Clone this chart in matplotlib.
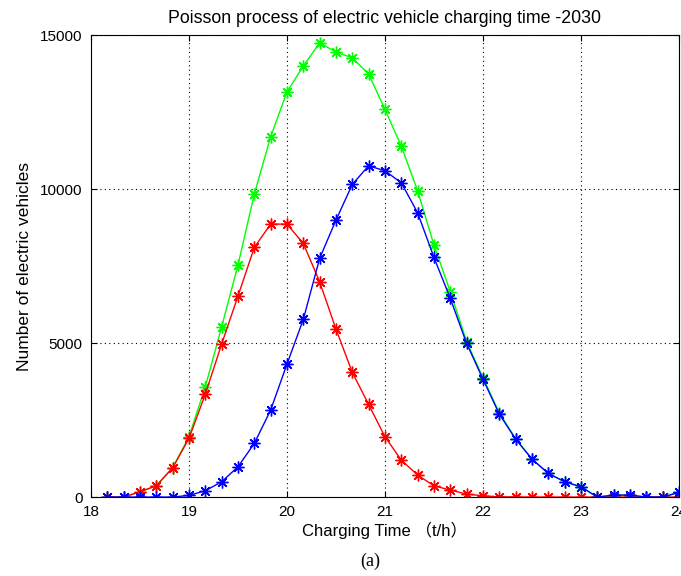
"""Poisson process of EV charging time (2030) - MATLAB-style line chart."""

import matplotlib
matplotlib.use("Agg")
import matplotlib.pyplot as plt

plt.rcParams["font.family"] = ["Liberation Sans", "Noto Sans CJK SC"]

# charging time slots, every 10 minutes from 18:10 to 24:00
TIME = [18 + k / 6 for k in range(1, 37)]

TOTAL = [0, 0, 172, 367, 951, 1960, 3582, 5530, 7532, 9838, 11698, 13159,
         13994, 14751, 14448, 14264, 13734, 12588, 11396, 9945, 8182, 6666,
         5050, 3870, 2738, 1890, 1240, 770, 497, 335, 0, 65, 65, 0, 0, 152]
GROUP_A = [0, 0, 172, 367, 951, 1905, 3344, 4968, 6526, 8107, 8864, 8864,
           8236, 6991, 5454, 4048, 3009, 1958, 1201, 714, 367, 227,
           97, 42, 10, 5, 0, 0, 0, 0, 0, 0, 0, 0, 0, 0]
GROUP_B = [0, 0, 0, 0, 0, 55, 205, 497, 984, 1743, 2825, 4318,
           5769, 7750, 8994, 10153, 10757, 10595, 10205, 9231, 7782, 6451,
           4990, 3831, 2695, 1883, 1234, 769, 497, 335, 0, 65, 65, 0, 0, 152]

XTICKS = [18, 19, 20, 21, 22, 23, 24]
YTICKS = [0, 5000, 10000, 15000]


def main():
    fig = plt.figure(figsize=(6.81, 5.76), dpi=100)
    ax = fig.add_axes([0.1336, 0.137, 0.8634, 0.802])

    # MATLAB '*' marker: plus and cross overlaid
    style = dict(marker=(8, 2, 0), markersize=8.5, linewidth=1.0,
                 markeredgewidth=1.0)
    ax.plot(TIME, TOTAL, color="#00ff00", **style)
    ax.plot(TIME, GROUP_A, color="#ff0000", **style)
    ax.plot(TIME, GROUP_B, color="#0000ff", **style)

    ax.set_xlim(18, 24)
    ax.set_ylim(0, 15000)
    ax.set_xticks(XTICKS)
    ax.set_yticks(YTICKS)
    ax.tick_params(direction="in", labelsize=11, length=4, pad=6,
                   top=True, right=True)
    ax.grid(True, color="black", linestyle=(0, (1, 3)), linewidth=0.8)
    for sp in ax.spines.values():
        sp.set_linewidth(0.8)

    ax.set_title("Poisson process of electric vehicle charging time -2030",
                 fontsize=12.8, pad=9)
    ax.set_xlabel("Charging Time （t/h）", fontsize=12, labelpad=2)
    ax.set_ylabel("Number of electric vehicles", fontsize=12.5, labelpad=6)

    fig.text(0.543, 0.01, "(a)", family="Liberation Serif", fontsize=13,
             ha="center", va="bottom")

    fig.savefig("out.png", dpi=100)


if __name__ == "__main__":
    main()
